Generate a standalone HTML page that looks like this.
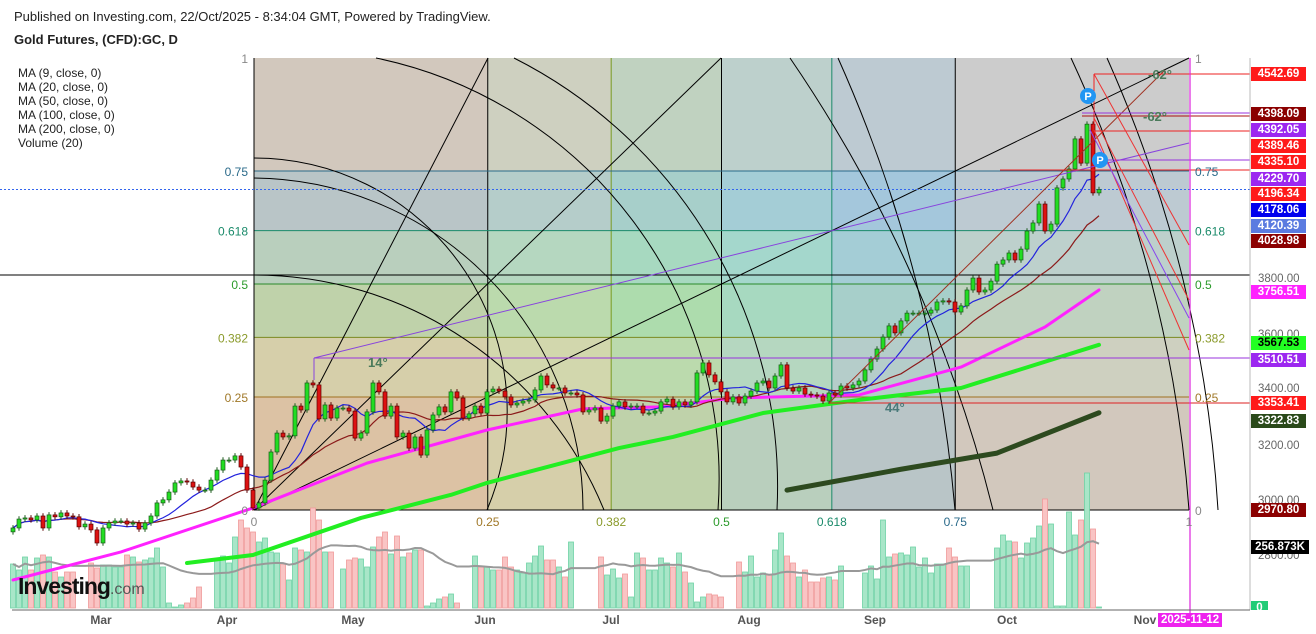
<!DOCTYPE html>
<html><head><meta charset="utf-8"><style>
body{margin:0;background:#fff;width:1316px;height:634px;overflow:hidden;font-family:"Liberation Sans",sans-serif;position:relative}
svg{position:absolute;left:0;top:0}
.t{position:absolute;white-space:nowrap}
.pl{position:absolute;left:1251px;width:55px;height:14px;font-size:11.5px;font-weight:bold;color:#fff;text-align:center;line-height:14px}
.pa{position:absolute;left:1258px;font-size:11.5px;color:#666}
</style></head><body>
<div class="t" style="left:14px;top:9px;font-size:13px;color:#222">Published on Investing.com, 22/Oct/2025 - 8:34:04 GMT, Powered by TradingView.</div>
<div class="t" style="left:14px;top:32px;font-size:13px;font-weight:bold;color:#222">Gold Futures, (CFD):GC, D</div>
<div class="t" style="left:18px;top:66px;font-size:12px;line-height:14px;color:#222">MA (9, close, 0)<br>MA (20, close, 0)<br>MA (50, close, 0)<br>MA (100, close, 0)<br>MA (200, close, 0)<br>Volume (20)</div>
<svg id="chart" width="1316" height="634"></svg>
<div class="t" style="left:18px;top:573px;font-size:23px;font-weight:bold;color:#111;letter-spacing:-1px">Investing<span style="font-size:16px;font-weight:normal;color:#555;letter-spacing:0">.com</span></div>
<div id="axes"></div>
<script>
const closes=[2909,2941,2945,2938,2952,2909,2956,2949,2963,2952,2949,2913,2923,2902,2855,2909,2927,2934,2934,2923,2927,2905,2927,2952,2999,3010,3038,3071,3078,3074,3056,3045,3045,3081,3117,3153,3153,3168,3128,3045,2981,
2999,3081,3182,3250,3236,3240,3347,3333,3430,3423,3301,3351,3304,3340,3340,3329,3232,3250,3326,3430,3398,3311,3347,3236,3250,3196,3236,3171,3261,3315,3344,3326,3398,3376,3304,3319,3347,3322,3398,3408,3401,3380,3351,3358,3365,3369,3405,3455,3423,3412,3412,3394,3394,3387,3326,3333,3340,3293,3311,3347,3362,3344,3347,3347,3322,3322,3329,3362,3372,
3344,3362,3351,3362,3466,3502,3459,3434,3398,3362,3380,3358,3383,3401,3430,3437,3412,3455,3495,3412,3401,3412,3390,3387,3383,3365,3394,3387,3419,3412,3423,3437,3477,3516,3552,3595,3635,3610,3653,3681,3681,3681,3681,3692,3721,3725,3721,3685,
3707,3764,3807,3757,3764,3796,3857,3872,3897,3872,3911,3976,4005,4073,3976,4001,4131,4163,4199,4307,4220,4360,4113,4125];
const volumes=[176,152,204,152,200,212,204,144,124,144,144,0,0,
180,160,172,172,164,164,212,204,184,192,200,240,164,
20,4,12,20,40,84,0,0,
192,208,180,284,352,320,304,264,280,224,220,176,112,240,232,224,400,352,224,224,0,
156,192,200,196,164,244,284,304,216,288,204,220,232,232,
8,20,36,44,56,20,0,0,
208,164,164,152,152,204,164,152,140,180,208,248,192,192,164,124,264,0,0,0,0,
204,132,156,120,136,44,220,200,152,152,200,180,164,220,144,100,24,44,56,52,44,0,0,
184,144,208,124,140,132,232,300,208,180,124,152,104,104,120,124,112,168,0,0,0,
140,168,116,352,204,216,220,212,244,164,200,140,176,176,240,204,168,168,0,0,0,0,
240,292,268,264,200,260,280,328,436,336,8,8,384,292,352,540,316,4];
const ma50Idx=[0,18,40,59,79,95,108,120,141,158,172,181];
const ma50Val=[2722,2823,2981,3142,3261,3337,3344,3376,3387,3487,3631,3764];
const ma100Idx=[29,40,58,73,79,101,110,125,141,158,181];
const ma100Val=[2783,2812,2945,3028,3071,3196,3236,3322,3369,3412,3567];
const ma200Idx=[129,148,164,181];
const ma200Val=[3045,3120,3178,3323];
const monthLabels=["Mar","Apr","May","Jun","Jul","Aug","Sep","Oct","Nov"];
const monthIdx=[15,36,57,79,100,123,144,166,189];

const NS="http://www.w3.org/2000/svg";
const svg=document.getElementById('chart');
const xOf=i=>13+6*i;
const yOf=p=>280-(p-3800)*0.2783;
const vY=v=>608-v*0.25;
function mk(tag,attrs,parent){const e=document.createElementNS(NS,tag);for(const k in attrs)e.setAttribute(k,attrs[k]);(parent||svg).appendChild(e);return e;}

const L=254,R=1189,T=58,B=510,W=R-L,H=B-T;
const lv=[0,0.25,0.382,0.5,0.618,0.75,1];
const pal=["#c8a070","#b8c080","#80c880","#70c0b0","#70a8c8","#b0b0b0"];
const bg=mk('g',{});


for(let k=0;k<6;k++){
  mk('rect',{x:L+W*lv[k],y:T,width:W*(lv[k+1]-lv[k]),height:H,fill:pal[k],'fill-opacity':0.4},bg);
  mk('rect',{x:L,y:B-H*lv[k+1],width:W,height:H*(lv[k+1]-lv[k]),fill:pal[k],'fill-opacity':0.4},bg);
}
const lineCols=["#000","#a07020","#7a8a20","#2a8a2a","#1a8a6a","#2a6a8a","#888"];
const fl=mk('g',{});


for(let k=1;k<6;k++){
  mk('line',{x1:L,x2:R,y1:B-H*lv[k],y2:B-H*lv[k],stroke:lineCols[k],'stroke-width':1},fl);
  mk('line',{x1:L+W*lv[k],x2:L+W*lv[k],y1:T,y2:B,stroke:(k==2?'#7a9a20':k==4?'#1a8a6a':'#000'),'stroke-width':1},fl);
}
mk('line',{x1:L,x2:R,y1:B,y2:B,stroke:'#000'},fl);
mk('line',{x1:L,x2:L,y1:T,y2:B,stroke:'#000'},fl);
const fan=mk('g',{stroke:'#000','stroke-width':1,fill:'none'});


[[488,58],[721,58],[1189,58]].forEach(p=>mk('line',{x1:L,y1:B,x2:p[0],y2:p[1]},fan));
[["M254,158 A253,253 0 0 1 487,510"],["M254,178 A332,332 0 0 1 583,510"],["M254,275 A378,378 0 0 1 604,510"],
 ["M376,58 A430,430 0 0 1 718,510"],["M514,58 A480,480 0 0 1 777,510"],["M790,58 A1400,1400 0 0 1 993,510"],
 ["M838,58 A1400,1400 0 0 1 955,510"],["M1071,58 A1300,1300 0 0 1 1189,510"],["M1107,58 A1300,1300 0 0 1 1218,510"]]
 .forEach(a=>mk('path',{d:a[0]},fan));
mk('line',{x1:0,x2:1250,y1:275,y2:275,stroke:'#000','stroke-width':1});
mk('line',{x1:0,x2:1250,y1:yOf(closes[closes.length-1]),y2:yOf(closes[closes.length-1]),stroke:'#3366ee','stroke-dasharray':'2,2'});

const vg=mk('g',{});


volumes.forEach((v,i)=>{ if(!v)return;
  const o=i?closes[i-1]:2895, up=closes[i]>=o;
  const r=mk('rect',{x:xOf(i)-2.5,y:vY(v),width:5,height:v*0.25,fill:up?'#a8e6c8':'#f9c4c4',stroke:up?'#6fd3a5':'#f09a9a','stroke-width':0.8},vg);
  
  
});
let vp=[],buf=[];
volumes.forEach((v,i)=>{ if(v){buf.push(v);if(buf.length>20)buf.shift();}
  if(buf.length)vp.push(xOf(i)+','+vY(buf.reduce((a,b)=>a+b,0)/buf.length));});
const vma=mk('polyline',{points:vp.join(' '),fill:'none',stroke:'#999','stroke-width':2});



function sparse(idx,val,col,w,name){
  const pl=mk('polyline',{points:idx.map((i,k)=>xOf(i)+','+yOf(val[k])).join(' '),fill:'none',stroke:col,'stroke-width':w,'stroke-linejoin':'round','stroke-linecap':'round'});
  
  
}
sparse(ma200Idx,ma200Val,'#2d4a1f',5,'ma200-line');
sparse(ma100Idx,ma100Val,'#22ee22',4,'ma100-line');
sparse(ma50Idx,ma50Val,'#ff22ff',3,'ma50-line');
function ma(n,col,name){
  const pts=closes.map((c,i)=>{const s=closes.slice(Math.max(0,i-n+1),i+1);return xOf(i)+','+yOf(s.reduce((a,b)=>a+b,0)/s.length);});
  const pl=mk('polyline',{points:pts.join(' '),fill:'none',stroke:col,'stroke-width':1.2});
  
  
}
ma(20,'#8b1a1a','ma20-line');
ma(9,'#2222dd','ma9-line');

const cg=mk('g',{});


closes.forEach((c,i)=>{
  const o=i?closes[i-1]:2895, up=c>=o, x=xOf(i);
  const hi=Math.max(o,c)+10, lo=Math.min(o,c)-10;
  const g=mk('g',{},cg);
  
  
  mk('line',{x1:x,x2:x,y1:yOf(hi),y2:yOf(lo),stroke:up?'#1a5a1a':'#5a0000','stroke-width':1},g);
  const y1=yOf(Math.max(o,c)),y2=yOf(Math.min(o,c));
  mk('rect',{x:x-2,y:y1,width:4,height:Math.max(1,y2-y1),fill:up?'#22dd22':'#dd1111',stroke:up?'#1a5a1a':'#5a0000','stroke-width':0.7},g);
});

const dr=mk('g',{fill:'none'});


mk('line',{x1:314,y1:358,x2:1250,y2:358,stroke:'#9933dd'},dr);
mk('line',{x1:314,y1:358,x2:1189,y2:143,stroke:'#8844dd'},dr);
mk('line',{x1:314,y1:358,x2:314,y2:380,stroke:'#8844dd'},dr);
mk('line',{x1:829,y1:403,x2:1250,y2:403,stroke:'#dd2222'},dr);
mk('line',{x1:829,y1:403,x2:1165,y2:70,stroke:'#a03020'},dr);
mk('line',{x1:1094,y1:74,x2:1250,y2:74,stroke:'#ee2222'},dr);
mk('line',{x1:1094,y1:74,x2:1094,y2:131,stroke:'#ee2222'},dr);
mk('line',{x1:1094,y1:131,x2:1250,y2:131,stroke:'#ee2222'},dr);
mk('line',{x1:1082,y1:113,x2:1250,y2:113,stroke:'#9933dd'},dr);
mk('line',{x1:1082,y1:116,x2:1250,y2:116,stroke:'#aa1111'},dr);
mk('line',{x1:1100,y1:160,x2:1250,y2:160,stroke:'#9933dd'},dr);
mk('line',{x1:1000,y1:170,x2:1250,y2:170,stroke:'#ee2222'},dr);
[[1094,74,1189,245],[1094,118,1189,300],[1094,130,1189,350]].forEach(l=>mk('line',{x1:l[0],y1:l[1],x2:l[2],y2:l[3],stroke:'#ee3333'},dr));
mk('line',{x1:1090,y1:130,x2:1189,y2:318,stroke:'#8844ee'},dr);
mk('line',{x1:1190,y1:58,x2:1190,y2:625,stroke:'#dd22dd','stroke-width':1.2},dr);
mk('line',{x1:1250,y1:58,x2:1250,y2:610,stroke:'#bbb'},dr);
mk('line',{x1:12,y1:610,x2:1250,y2:610,stroke:'#666'},dr);
[[1088,96],[1100,160]].forEach(p=>{const g=mk('g',{});
  mk('circle',{cx:p[0],cy:p[1],r:8,fill:'#2196f3'},g);
  const t=mk('text',{x:p[0],y:p[1]+4,'text-anchor':'middle','font-size':11,'font-weight':'bold',fill:'#fff','font-family':'Liberation Sans'},g);t.textContent='P';});
function txt(x,y,s,col,size,anchor,bold,name){const t=mk('text',{x:x,y:y,fill:col,'font-size':size,'text-anchor':anchor||'start','font-weight':bold?'bold':'normal','font-family':'Liberation Sans, sans-serif'});t.textContent=s;
  }
txt(368,367,'14°','#4a7a5a',13,'start',true,'angle-label-14');
txt(885,412,'44°','#4a7a7a',13,'start',true,'angle-label-44');
txt(1148,79,'-62°','#4a7a5a',13,'start',true,'angle-label-62');
txt(1143,121,'-62°','#4a7a5a',13,'start',true,'angle-label-62b');
const fibNames=["0","0.25","0.382","0.5","0.618","0.75","1"];
const fibCols=["#888","#a07828","#8a9a2a","#2a9a2a","#1a8a6a","#2a6a8a","#888"];
for(let k=0;k<7;k++){
  const y=B-H*lv[k];
  txt(248,y+5,fibNames[k],fibCols[k],12,'end',false,'fib-label-left');
  txt(1195,y+5,fibNames[k],fibCols[k],12,'start',false,'fib-label-right');
  txt(L+W*lv[k],526,fibNames[k],fibCols[k],12,'middle',false,'fib-label-bottom');
}
monthLabels.forEach((m,k)=>txt(xOf(monthIdx[k])-2,624,m,'#555',12,'middle',true,'x-axis-month'));
</script>
<div class="pa" style="top:273px">3800.00</div>
<div class="pa" style="top:329px">3600.00</div>
<div class="pa" style="top:383px">3400.00</div>
<div class="pa" style="top:440px">3200.00</div>
<div class="pa" style="top:495px">3000.00</div>
<div class="pa" style="top:550px">2800.00</div>
<div class="pl" style="top:67px;background:#ff1a1a">4542.69</div>
<div class="pl" style="top:107px;background:#8b0000">4398.09</div>
<div class="pl" style="top:123px;background:#9c27f0">4392.05</div>
<div class="pl" style="top:139px;background:#ff1a1a">4389.46</div>
<div class="pl" style="top:155px;background:#ff1a1a">4335.10</div>
<div class="pl" style="top:172px;background:#9c27f0">4229.70</div>
<div class="pl" style="top:187px;background:#ff1a1a">4196.34</div>
<div class="pl" style="top:203px;background:#0000ee">4178.06</div>
<div class="pl" style="top:219px;background:#5b7be0">4120.39</div>
<div class="pl" style="top:234px;background:#8b0000">4028.98</div>
<div class="pl" style="top:285px;background:#ff22ff">3756.51</div>
<div class="pl" style="top:336px;background:#22ff22;color:#000">3567.53</div>
<div class="pl" style="top:353px;background:#9c27f0">3510.51</div>
<div class="pl" style="top:396px;background:#ff1a1a">3353.41</div>
<div class="pl" style="top:414px;background:#2a4a1a">3322.83</div>
<div class="pl" style="top:503px;background:#8b0000">2970.80</div>
<div class="pl" style="top:540px;background:#000;width:58px">256.873K</div>
<div class="pl" style="top:601px;width:17px;background:#22cc77;height:9px">0</div>
<div class="t" style="left:1158px;top:613px;background:#ee22ee;color:#fff;font-size:11.5px;font-weight:bold;padding:1px 3px">2025-11-12</div>
</body></html>
